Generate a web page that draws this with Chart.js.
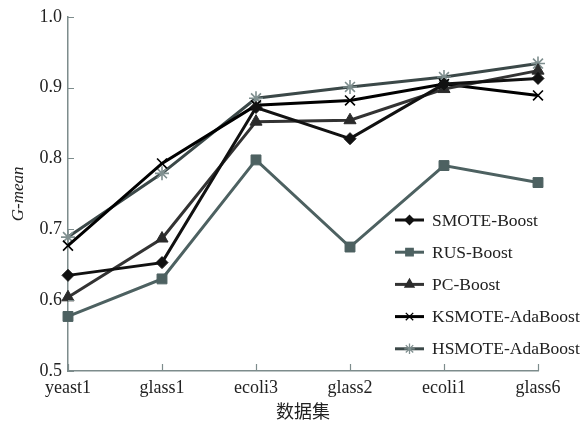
<!DOCTYPE html>
<html>
<head>
<meta charset="utf-8">
<script src="https://cdn.jsdelivr.net/npm/chart.js@4/dist/chart.umd.min.js"></script>
<style>
  html, body { margin: 0; padding: 0; background: #fff; }
  #wrap { width: 585px; height: 423px; position: relative; }
</style>
</head>
<body>
<div id="wrap"><canvas id="chart"></canvas></div>
<script>
// Data
const datasets = ['yeast1', 'glass1', 'ecoli3', 'glass2', 'ecoli1', 'glass6'];
const yTicks = [0.5, 0.6, 0.7, 0.8, 0.9, 1.0];

const smoteBoost = [0.635, 0.653, 0.872, 0.828, 0.905, 0.913];
const rusBoost = [0.577, 0.630, 0.798, 0.675, 0.790, 0.766];
const pcBoost = [0.604, 0.687, 0.852, 0.854, 0.898, 0.924];
const ksmoteAda = [0.677, 0.793, 0.875, 0.882, 0.905, 0.889];
const hsmoteAda = [0.689, 0.779, 0.885, 0.901, 0.915, 0.934];

const serif = '"Liberation Serif", "DejaVu Serif", serif';
const axisColor = '#7d8c8c';

const series = [
    { label: 'SMOTE-Boost', data: smoteBoost, line: '#111111', point: '#111111', style: 'rectRot', radius: 6 },
    { label: 'RUS-Boost', data: rusBoost, line: '#4d6161', point: '#4d6161', style: 'rect', radius: 7 },
    { label: 'PC-Boost', data: pcBoost, line: '#333333', point: '#2b2b2b', style: 'triangle', radius: 7 },
    { label: 'KSMOTE-AdaBoost', data: ksmoteAda, line: '#000000', point: '#000000', style: 'crossRot', radius: 7 },
    { label: 'HSMOTE-AdaBoost', data: hsmoteAda, line: '#3b4848', point: '#7f8f8f', style: 'star', radius: 7 }
];

// Inward ticks, axis titles and the in-plot legend
const decorations = {
    id: 'decorations',
    afterDraw(chart) {
        const { ctx, chartArea, scales } = chart;
        const x = scales.x, y = scales.y;
        ctx.save();
        ctx.strokeStyle = axisColor;
        ctx.lineWidth = 1.2;
        ctx.beginPath();
        yTicks.forEach(v => {
            const py = Math.round(y.getPixelForValue(v)) + 0.5;
            ctx.moveTo(chartArea.left, py);
            ctx.lineTo(chartArea.left + 6, py);
        });
        datasets.forEach((d, i) => {
            const px = Math.round(x.getPixelForValue(i)) + 0.5;
            ctx.moveTo(px, chartArea.bottom);
            ctx.lineTo(px, chartArea.bottom - 7);
        });
        ctx.stroke();

        // axis titles
        ctx.fillStyle = '#222';
        ctx.textAlign = 'center';
        ctx.textBaseline = 'middle';
        ctx.font = '18px "Noto Sans CJK SC", sans-serif';
        ctx.fillText('数据集', (chartArea.left + chartArea.right) / 2, 411);
        ctx.save();
        ctx.translate(19, (chartArea.top + chartArea.bottom) / 2);
        ctx.rotate(-Math.PI / 2);
        ctx.font = 'italic 17px ' + serif;
        ctx.fillText('G-mean', 0, 0);
        ctx.restore();

        // legend
        ctx.font = '17.5px ' + serif;
        ctx.textAlign = 'left';
        series.forEach((s, i) => {
            const ly = 220 + i * 32.2;
            ctx.strokeStyle = s.line;
            ctx.lineWidth = 3;
            ctx.beginPath();
            ctx.moveTo(395, ly);
            ctx.lineTo(424, ly);
            ctx.stroke();
            ctx.fillStyle = s.point;
            ctx.strokeStyle = s.point;
            ctx.lineWidth = 1.3;
            Chart.helpers.drawPoint(ctx, {
                pointStyle: s.style,
                radius: s.radius * 0.75,
                rotation: 0,
                borderWidth: 1.3
            }, 409.5, ly);
            ctx.fillStyle = '#222';
            ctx.fillText(s.label, 432, ly + 1);
        });
        ctx.restore();
    }
};

new Chart(document.getElementById('chart'), {
    type: 'line',
    data: {
        labels: datasets,
        datasets: series.map(s => ({
            label: s.label,
            data: s.data,
            borderColor: s.line,
            borderWidth: 3,
            backgroundColor: s.point,
            pointBackgroundColor: s.point,
            pointBorderColor: s.point,
            pointBorderWidth: (s.style === 'crossRot' || s.style === 'star') ? 1.6 : 1,
            pointStyle: s.style,
            pointRadius: s.radius,
            tension: 0,
            fill: false
        }))
    },
    options: {
        responsive: true,
        maintainAspectRatio: false,
        animation: false,
        layout: { padding: { left: 0, top: 16, right: 47, bottom: 0 } },
        plugins: {
            legend: { display: false },
            tooltip: { enabled: false }
        },
        scales: {
            x: {
                offset: false,
                grid: { display: false, drawTicks: false },
                border: { color: axisColor, width: 1.5 },
                ticks: { color: '#222', font: { family: serif, size: 18 }, padding: 6, maxRotation: 0 },
                afterFit(scale) { scale.height = 52; }
            },
            y: {
                min: 0.5,
                max: 1.0,
                grid: { display: false, drawTicks: false },
                border: { color: axisColor, width: 1.5 },
                ticks: {
                    stepSize: 0.1,
                    color: '#222',
                    font: { family: serif, size: 18 },
                    padding: 6,
                    callback: v => v.toFixed(1)
                },
                afterFit(scale) { scale.width = 68; }
            }
        }
    },
    plugins: [decorations]
});
</script>
</body>
</html>
